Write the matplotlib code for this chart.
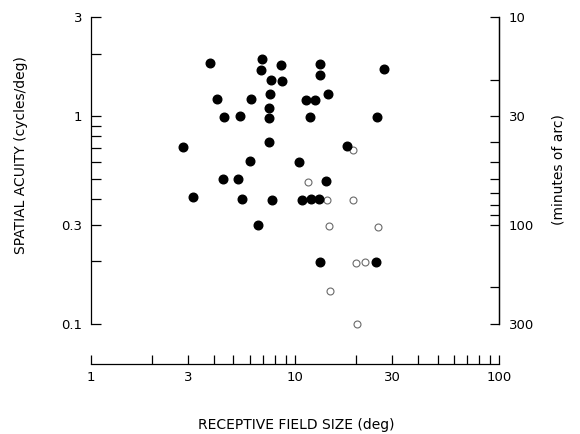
import matplotlib
matplotlib.use("Agg")
import matplotlib.pyplot as plt
from matplotlib.ticker import FixedLocator, NullFormatter

# ---------------------------------
# data
# ---------------------------------
# filled circles: receptive field size (deg), spatial acuity (cycles/deg)
filled_x = [3.85, 6.89, 6.83, 8.57, 13.3, 27.4, 7.63, 8.66, 13.3, 4.16,
            6.13, 7.54, 11.3, 12.6, 14.6, 7.48, 4.50, 5.38, 7.48, 11.9,
            25.3, 2.84, 7.48, 18.1, 6.06, 10.5, 4.47, 5.29, 14.2, 3.16,
            5.50, 7.74, 10.8, 12.0, 13.2, 6.59, 13.3, 25.0]
filled_y = [1.80, 1.88, 1.66, 1.76, 1.79, 1.68, 1.50, 1.48, 1.57, 1.21,
            1.21, 1.28, 1.19, 1.19, 1.28, 1.10, 0.99, 1.00, 0.98, 0.99,
            0.99, 0.71, 0.75, 0.72, 0.61, 0.60, 0.50, 0.50, 0.49, 0.41,
            0.40, 0.395, 0.395, 0.40, 0.40, 0.30, 0.198, 0.198]

# open circles
open_x = [19.2, 11.6, 14.4, 19.2, 14.7, 25.5, 19.9, 22.1, 14.9, 20.2]
open_y = [0.69, 0.483, 0.395, 0.395, 0.297, 0.292, 0.197, 0.198, 0.144, 0.100]

# tick positions / labels
x_major = [1, 3, 10, 30, 100]
x_labels = ['1', '3', '10', '30', '100']
x_minor = [2, 4, 5, 6, 7, 8, 9, 20, 40, 50, 60, 70, 80, 90]
y_major = [0.1, 0.3, 1, 3]
y_labels = ['0.1', '0.3', '1', '3']
y_minor = [0.2, 0.4, 0.5, 0.6, 0.7, 0.8, 0.9, 2]
r_major = [10, 30, 100, 300]
r_labels = ['10', '30', '100', '300']
r_minor = [20, 40, 50, 60, 70, 80, 90, 200]

plt.rcParams['font.family'] = ['DejaVu Sans']

fig = plt.figure(figsize=(5.8, 4.34), dpi=100)
ax = fig.add_axes([90.7 / 580, 110 / 434, (499 - 90.7) / 580, 307 / 434])

ax.plot(filled_x, filled_y, 'o', color='black', markersize=6.2, zorder=3,
        clip_on=False)
ax.plot(open_x, open_y, 'o', markerfacecolor='white', markeredgecolor='#6a6a6a',
        markeredgewidth=0.8, markersize=5.0, zorder=2, clip_on=False)

ax.set_xscale('log')
ax.set_yscale('log')
ax.set_xlim(1, 100)
ax.set_ylim(0.1, 3)

# x axis sits below the plot, ticks pointing up
ax.spines['top'].set_visible(False)
ax.spines['bottom'].set_position(('outward', 28.8))
for sp in ax.spines.values():
    sp.set_linewidth(0.9)

ax.xaxis.set_major_locator(FixedLocator(x_major))
ax.xaxis.set_minor_locator(FixedLocator(x_minor))
ax.set_xticklabels(x_labels)
ax.xaxis.set_minor_formatter(NullFormatter())

ax.yaxis.set_major_locator(FixedLocator(y_major))
ax.yaxis.set_minor_locator(FixedLocator(y_minor))
ax.set_yticklabels(y_labels)
ax.yaxis.set_minor_formatter(NullFormatter())

ax.tick_params(axis='x', which='both', direction='in', length=6.5, width=0.9,
               labelsize=9.5, pad=5)
ax.tick_params(axis='y', which='both', direction='in', length=7, width=0.9,
               labelsize=9.5, pad=6)

# right axis in minutes of arc (30 / cycles per deg)
ax2 = ax.twinx()
ax2.set_yscale('log')
ax2.set_ylim(300, 10)
for name in ['top', 'bottom', 'left']:
    ax2.spines[name].set_visible(False)
ax2.spines['right'].set_linewidth(0.9)
ax2.yaxis.set_major_locator(FixedLocator(r_major))
ax2.yaxis.set_minor_locator(FixedLocator(r_minor))
ax2.set_yticklabels(r_labels)
ax2.yaxis.set_minor_formatter(NullFormatter())
ax2.tick_params(axis='y', which='both', direction='in', length=6.5, width=0.9,
                labelsize=9.5, pad=7)

fig.text(296.5 / 580, 1 - 425 / 434, 'RECEPTIVE FIELD SIZE (deg)',
         ha='center', va='center', fontsize=10)
fig.text(21 / 580, 1 - 155 / 434, 'SPATIAL ACUITY (cycles/deg)',
         ha='center', va='center', rotation=90, fontsize=10)
fig.text(558 / 580, 1 - 170 / 434, '(minutes of arc)',
         ha='center', va='center', rotation=90, fontsize=10)

fig.savefig('out.png', dpi=100)
